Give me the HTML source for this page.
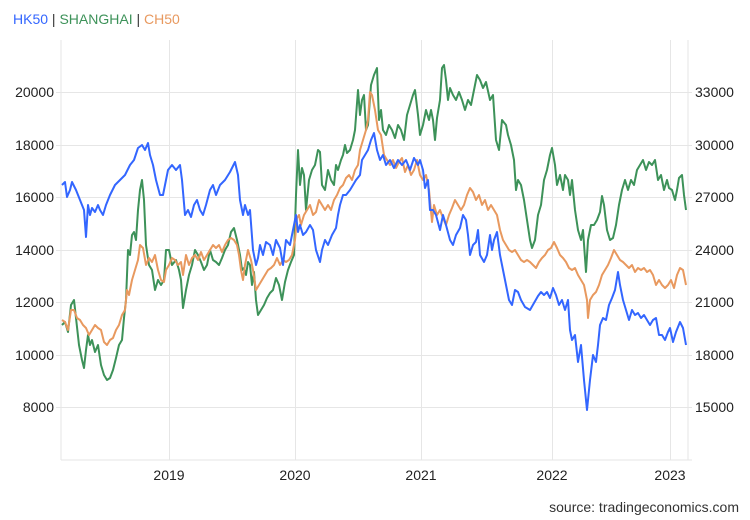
<!DOCTYPE html>
<html><head><meta charset="utf-8"><style>
body{margin:0;background:#fff;}
svg{display:block;font-family:"Liberation Sans",Arial,sans-serif;}
</style></head><body>
<svg width="750" height="520" viewBox="0 0 750 520" xmlns="http://www.w3.org/2000/svg">
<text x="13" y="24" font-size="14"><tspan fill="#3366ff">HK50</tspan><tspan fill="#333"> | </tspan><tspan fill="#3d9259">SHANGHAI</tspan><tspan fill="#333"> | </tspan><tspan fill="#e8995f">CH50</tspan></text>
<g stroke="#e6e6e6" stroke-width="1">
<line x1="61" y1="40" x2="61" y2="460"/><line x1="688" y1="40" x2="688" y2="460"/>
<line x1="61" y1="460" x2="692" y2="460"/>
<line x1="169.5" y1="40" x2="169.5" y2="460"/><line x1="295.5" y1="40" x2="295.5" y2="460"/>
<line x1="421.5" y1="40" x2="421.5" y2="460"/><line x1="552.5" y1="40" x2="552.5" y2="460"/>
<line x1="670.5" y1="40" x2="670.5" y2="460"/>
<line x1="56" y1="92.5" x2="692" y2="92.5"/><line x1="56" y1="145.5" x2="692" y2="145.5"/>
<line x1="56" y1="197.5" x2="692" y2="197.5"/><line x1="56" y1="250.5" x2="692" y2="250.5"/>
<line x1="56" y1="302.5" x2="692" y2="302.5"/><line x1="56" y1="355.5" x2="692" y2="355.5"/>
<line x1="56" y1="407.5" x2="692" y2="407.5"/>
</g>
<g font-size="14" fill="#222" text-anchor="end">
<text x="54" y="97">20000</text><text x="54" y="150">18000</text><text x="54" y="202">16000</text>
<text x="54" y="255">14000</text><text x="54" y="307">12000</text><text x="54" y="360">10000</text><text x="54" y="412">8000</text>
</g>
<g font-size="14" fill="#222">
<text x="695" y="97">33000</text><text x="695" y="150">30000</text><text x="695" y="202">27000</text>
<text x="695" y="255">24000</text><text x="695" y="307">21000</text><text x="695" y="360">18000</text><text x="695" y="412">15000</text>
</g>
<g font-size="14" fill="#222" text-anchor="middle">
<text x="169" y="480">2019</text><text x="295" y="480">2020</text><text x="421" y="480">2021</text><text x="552" y="480">2022</text><text x="670" y="480">2023</text>
</g>
<text x="739" y="512" font-size="14" fill="#333" text-anchor="end">source: tradingeconomics.com</text>
<g fill="none" stroke-width="2" stroke-linejoin="round">
<polyline stroke="#3d9259" points="62,325 65,322 68,332 71,305 74,300 76,318 79,345 82,360 84,368 86,350 88,335 90,345 92,340 95,352 98,345 101,365 104,375 107,380 110,378 113,370 116,358 119,345 122,340 124,318 126,300 128,250 130,255 132,235 134,232 136,240 138,210 140,190 142,180 144,200 146,245 149,265 152,270 155,290 158,280 161,285 164,280 166,250 169,250 172,265 176,260 179,270 181,280 183,308 186,290 189,275 192,265 195,250 198,255 201,262 204,270 207,265 210,250 213,260 216,262 219,265 222,258 225,250 228,245 231,232 234,228 237,240 240,255 242,270 244,268 246,275 248,262 250,265 252,285 254,272 256,300 258,315 261,310 264,305 267,298 270,293 273,290 276,278 279,285 282,300 285,282 288,270 291,262 294,255 296,195 298,150 300,185 302,168 304,175 306,210 309,180 312,170 315,165 318,150 320,152 322,185 325,190 328,170 331,180 334,185 336,165 338,170 341,160 343,155 345,145 347,153 350,150 353,140 355,130 358,90 360,115 362,100 364,95 366,130 368,125 371,85 374,75 377,68 379,120 381,110 383,130 386,135 389,125 392,130 395,138 398,125 401,130 404,140 407,115 410,105 413,95 415,90 418,115 420,135 423,125 426,110 429,120 431,110 433,120 435,140 437,118 440,100 442,68 444,65 446,80 448,100 450,88 453,95 456,100 459,92 462,100 465,110 468,100 471,105 474,90 477,75 480,80 483,88 486,82 490,100 493,95 496,140 499,150 502,120 506,125 508,135 511,145 514,160 516,190 518,180 521,185 524,200 527,220 530,240 532,248 535,240 538,215 541,205 544,180 547,170 550,155 552,148 555,165 557,185 560,175 563,190 565,175 568,180 570,195 572,180 575,210 578,230 581,240 583,230 586,272 588,240 591,225 594,225 597,220 600,212 602,196 604,205 607,230 610,240 613,238 616,225 619,205 622,190 625,180 628,190 631,180 634,185 637,170 640,165 643,160 646,170 649,162 652,165 655,160 658,180 661,175 664,190 667,180 669,188 672,190 675,200 677,190 679,178 682,175 684,195 686,210"/>
<polyline stroke="#e8995f" points="62,320 65,322 68,330 71,310 74,310 77,318 80,320 83,325 86,328 89,335 92,330 95,325 98,328 101,330 104,342 107,345 110,340 113,338 116,330 119,325 122,315 125,310 127,290 129,295 132,280 135,270 138,260 140,245 143,248 146,265 149,258 152,262 155,255 158,270 161,280 164,282 166,270 169,265 172,258 175,260 178,265 181,262 183,275 186,255 189,265 192,258 195,255 198,260 201,252 204,260 207,255 210,250 213,245 216,248 219,245 222,252 225,245 228,240 231,238 234,240 237,245 239,255 241,270 243,280 245,265 248,250 251,260 253,270 256,290 259,285 262,280 265,275 268,270 271,268 274,265 277,258 280,265 283,260 286,262 289,260 292,255 295,240 297,218 299,215 301,225 304,215 307,210 310,205 313,215 316,212 319,200 322,205 325,210 328,205 331,210 334,200 337,195 340,188 343,185 346,178 349,175 352,180 355,170 358,165 360,150 363,140 366,130 368,120 370,92 372,95 375,110 378,130 381,135 384,155 387,160 390,165 393,160 396,168 399,162 402,158 405,172 408,165 411,175 414,170 417,160 420,175 423,180 426,175 429,190 432,222 434,205 437,215 440,210 443,218 446,225 449,215 452,208 455,200 458,205 461,210 464,205 467,195 470,188 473,192 476,200 479,195 482,205 485,200 488,210 491,205 494,210 497,215 500,230 503,240 506,245 509,250 512,252 515,250 518,255 521,260 524,262 527,260 530,262 533,265 536,268 539,262 542,258 545,255 548,250 551,248 554,242 557,248 560,255 563,258 566,262 569,268 572,270 575,268 578,275 581,280 584,285 587,300 588,318 590,300 593,295 596,292 599,285 602,275 605,270 608,265 611,258 614,250 617,255 620,260 623,262 626,265 629,268 632,265 635,272 638,268 641,270 644,268 647,272 650,270 653,275 656,285 659,280 662,285 665,288 668,285 671,280 674,288 677,275 680,268 683,270 686,285"/>
<polyline stroke="#3366ff" points="62,185 65,182 67,197 70,190 72,182 76,190 80,200 84,210 86,237 88,205 90,215 92,208 95,212 98,205 100,210 103,215 106,205 110,195 115,185 120,180 125,175 130,165 134,160 138,148 142,145 145,150 148,143 150,155 153,165 156,180 160,195 163,195 166,180 168,170 172,165 176,170 180,165 182,180 185,215 188,210 191,217 194,205 197,200 200,210 203,215 206,205 210,190 213,185 216,195 220,185 225,180 230,172 235,162 238,175 240,200 243,215 245,205 248,215 250,210 253,250 256,265 258,258 260,245 263,255 266,242 270,245 273,255 276,240 280,248 283,265 286,240 290,245 293,230 296,215 298,232 300,225 303,235 306,232 310,225 313,230 316,250 320,262 322,250 325,240 328,245 332,235 336,228 338,215 340,205 343,195 346,195 350,190 353,185 356,180 360,175 362,160 365,155 368,150 371,140 374,133 377,150 380,160 383,155 386,165 390,160 394,168 398,160 402,165 406,160 410,170 414,158 418,165 420,160 423,170 425,188 428,180 430,210 433,210 436,215 440,230 443,215 446,225 450,240 453,245 456,235 460,228 463,215 466,220 468,235 470,255 473,245 476,242 478,230 480,255 484,262 487,255 490,235 492,250 494,240 497,232 500,255 503,270 506,285 509,300 512,305 515,290 518,292 521,300 525,307 530,310 534,303 538,296 541,292 544,295 547,292 550,298 553,288 556,295 559,305 562,300 565,310 568,300 570,330 572,340 575,335 578,362 581,345 584,380 587,410 590,380 593,355 596,362 598,345 600,325 603,318 606,320 609,305 612,298 615,290 618,272 620,285 623,300 626,310 629,320 632,310 635,315 638,313 641,318 644,315 647,320 650,325 653,320 656,318 659,335 662,335 665,340 668,332 670,328 673,342 676,332 680,322 683,328 686,345"/>
</g>
</svg>
</body></html>
